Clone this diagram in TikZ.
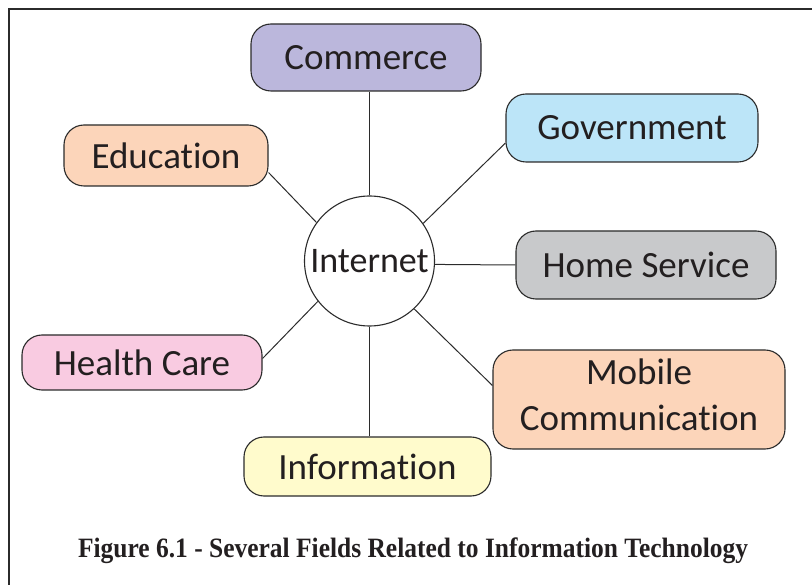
\documentclass[tikz,border=0pt]{standalone}
\usepackage{fontspec}
\newfontfamily\cfont[Ligatures={NoCommon,NoRequired,NoContextual}]{Carlito}
\newfontfamily\capfont{Liberation Serif}
\definecolor{linec}{HTML}{2B2B2B}
\definecolor{txt}{HTML}{231F20}
\definecolor{comfill}{HTML}{BBB7DC}
\definecolor{govfill}{HTML}{BCE5F8}
\definecolor{peach}{HTML}{FCD5BA}
\definecolor{greyfill}{HTML}{C8C9CB}
\definecolor{pinkfill}{HTML}{F9CBE1}
\definecolor{yelfill}{HTML}{FFFBCC}
\tikzset{
  box/.style={draw=linec, line width=1.1pt, rounded corners=20pt, text=txt, inner sep=0pt, align=center,
    font=\cfont\fontsize{37}{46}\selectfont},
  conn/.style={draw=linec, line width=1pt},
}
\begin{document}
\begin{tikzpicture}[x=1pt,y=-1pt]
\useasboundingbox (0,0) rectangle (812,585);
\draw[linec, line width=2.2pt] (9,590) -- (9,9) -- (820,9);
\node[draw=linec, line width=1.1pt, circle, minimum size=130pt, inner sep=0pt, text=txt,
  font=\cfont\fontsize{36}{44}\selectfont] (inet) at (369.5,261) {Internet};
\node[box, fill=comfill, minimum width=230pt, minimum height=67pt] (com) at (366,57.5) {Commerce};
\node[box, fill=govfill, minimum width=252pt, minimum height=68pt] (gov) at (632,128) {Government};
\node[box, fill=peach, minimum width=204pt, minimum height=61pt] (edu) at (166,155.5) {Education};
\node[box, fill=greyfill, minimum width=260pt, minimum height=68pt] (hs) at (646,265) {Home Service};
\node[box, fill=pinkfill, minimum width=240pt, minimum height=55pt] (hc) at (142,362.5) {Health Care};
\node[box, fill=peach, minimum width=292pt, minimum height=99pt, text depth=9pt] (mob) at (639,399.5) {Mobile\\Communication};
\node[box, fill=yelfill, minimum width=247pt, minimum height=59pt] (inf) at (367.5,466.5) {Information};
\draw[conn] (inet.north) -- (inet.north |- com.south);
\draw[conn] (inet.35) -- ([yshift=-15pt]gov.west);
\draw[conn] (inet.144) -- ([yshift=-17pt]edu.east);
\draw[conn] (inet.-3.5) -- (hs.west);
\draw[conn] (inet.218) -- ([yshift=4pt]hc.east);
\draw[conn] (inet.-47) -- ([yshift=14pt]mob.west);
\draw[conn] (inet.south) -- (inet.south |- inf.north);
\node[text=txt, font=\capfont\bfseries\fontsize{28}{32}\selectfont] (cap) at (413,551)
  {\resizebox{670pt}{\height}{Figure 6.1 - Several Fields Related to Information Technology}};
\end{tikzpicture}
\end{document}
